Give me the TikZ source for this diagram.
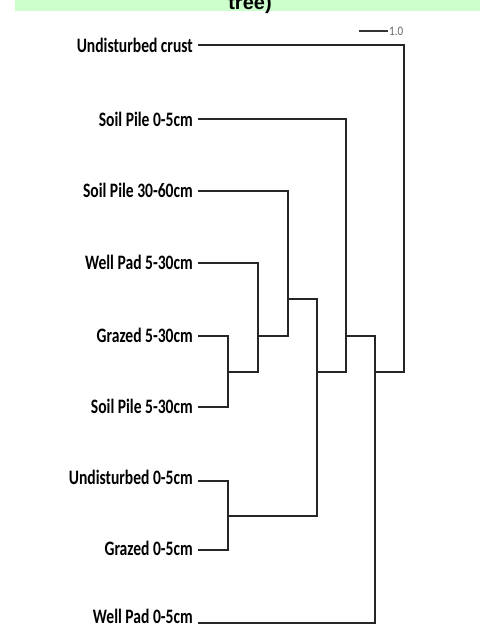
\documentclass[tikz,border=0pt]{standalone}
\usepackage{graphicx}
\usepackage{fontspec}
\setmainfont{Carlito}
\newfontfamily\titlefont{Liberation Sans}
\definecolor{bannergreen}{RGB}{204,255,204}
\newcommand{\narrowtext}[1]{\scalebox{0.76}[1]{#1}}
\begin{document}
\begin{tikzpicture}[x=1pt, y=-1pt]
      \tikzset{
  leaf/.style={
    anchor=east,
    inner xsep=5pt,
    inner ysep=0pt,
    text depth=0pt,
    text=black,
    font=\bfseries\fontsize{20.5}{22}\selectfont
  },
  branch/.style={
    line width=2pt,
    black!85
  }
}
\useasboundingbox (0,0) rectangle (480,632);

% banner, cut at the top
\fill[bannergreen] (15,0) rectangle (480,10.5);
\node [anchor=base, inner sep=0pt, font=\titlefont\bfseries\fontsize{20}{22}\selectfont] (title) at (250,9) {tree)};

% scale bar
\coordinate (bar-l) at (359,31);
\node [anchor=west, inner sep=1pt, text=black!60, font=\fontsize{13}{15}\selectfont] (bar) at (388,31) {\scalebox{0.85}[1]{1.0}};
\draw [line width=2pt, black!80] (bar-l) -- (bar.west);

% label / line height / baseline offset (text height = 2 x offset)
\foreach \t/\n/\y/\h in {Undisturbed crust/crust/45/14, Soil Pile 0-5cm/sp05/119/14,
    Soil Pile 30-60cm/sp3060/191/12, Well Pad 5-30cm/wp530/263/13,
    Grazed 5-30cm/gz530/336/12, Soil Pile 5-30cm/sp530/407/13,
    Undisturbed 0-5cm/ud05/481/7, Grazed 0-5cm/gz05/550/10, Well Pad 0-5cm/wp05/623/1}
  \node [leaf, text height=\h pt] (\n) at (198,\y) {\narrowtext{\t}};

% joins
\coordinate (j1) at (228,372);
\coordinate (j2) at (258,336);
\coordinate (j3) at (288,299);
\coordinate (j4) at (228,516);
\coordinate (j5) at (317,372);
\coordinate (j6) at (346,336);
\coordinate (j7) at (375,372);
\coordinate (j8) at (404,200);

\draw [branch] (gz530.east) -| (j1) |- (sp530.east);
\draw [branch] (wp530.east) -| (j2) |- (j1);
\draw [branch] (sp3060.east) -| (j3) |- (j2);
\draw [branch] (ud05.east) -| (j4) |- (gz05.east);
\draw [branch] (j3) -| (j5) |- (j4);
\draw [branch] (sp05.east) -| (j6) |- (j5);
\draw [branch] (j6) -| (j7) |- (wp05.east);
\draw [branch] (crust.east) -| (j8) |- (j7);
    \end{tikzpicture}
\end{document}
